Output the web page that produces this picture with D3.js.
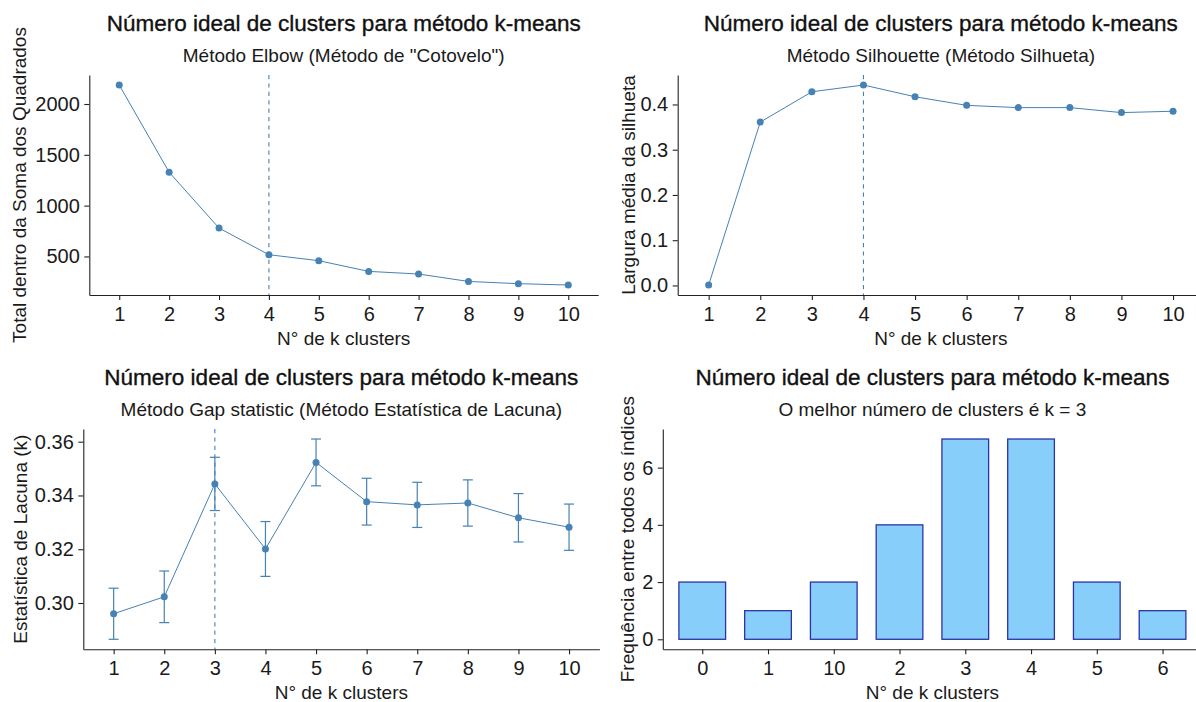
<!DOCTYPE html>
<html>
<head>
<meta charset="utf-8">
<script src="https://cdn.jsdelivr.net/npm/d3@7/dist/d3.min.js"></script>
<style>
  body { margin: 0; background: #fff; }
  svg { display: block; font-family: "Liberation Sans", Arial, sans-serif; }
  .domain, .tick line { stroke: #222; stroke-width: 1.1px; }
  .tick text { font-size: 20px; fill: #1a1a1a; }
  .title { font-size: 22.5px; fill: #111; stroke: #111; stroke-width: 0.35px; text-anchor: middle; }
  .subtitle, .axtitle { font-size: 19px; fill: #1a1a1a; text-anchor: middle; }
</style>
</head>
<body>
<script>
// data
var ks = [1, 2, 3, 4, 5, 6, 7, 8, 9, 10];
var wss = [2187, 1329, 779, 517, 458, 353, 327, 254, 232, 219];
var silhouette = [0.001, 0.361, 0.428, 0.443, 0.417, 0.398, 0.393, 0.393, 0.382, 0.385];
var gap = [0.2960, 0.3023, 0.3443, 0.3201, 0.3523, 0.3377, 0.3365, 0.3372, 0.3317, 0.3282];
var gapSE = [0.0095, 0.0096, 0.0099, 0.0102, 0.0087, 0.0087, 0.0084, 0.0086, 0.0090, 0.0086];
var nbCategories = ["0", "1", "10", "2", "3", "4", "5", "6"];
var nbFreq = [2, 1, 2, 4, 7, 7, 2, 1];

var elbowK = 4, silK = 4, gapK = 3;
var mainTitle = "Número ideal de clusters para método k-means";
var xLabel = "N° de k clusters";

var width = 1196, height = 702;
var blue = "steelblue";

var svg = d3.select("body").append("svg")
  .attr("width", width)
  .attr("height", height);

// ggplot style 5% expansion of a continuous range
function expand(ext) {
  var d = (ext[1] - ext[0]) * 0.05;
  return [ext[0] - d, ext[1] + d];
}

// draws titles + axes for one panel
function panel(p, x, y, yTicks, yFmt, subtitle, yLabel) {
  var g = svg.append("g");
  var cx = (p.left + p.right) / 2, cy = (p.top + p.bottom) / 2;

  g.append("text").attr("class", "title")
    .attr("x", cx).attr("y", p.top - 44.3).text(mainTitle);
  g.append("text").attr("class", "subtitle")
    .attr("x", cx).attr("y", p.top - 13.5).text(subtitle);

  g.append("g")
    .attr("transform", "translate(0," + p.bottom + ")")
    .call(d3.axisBottom(x).tickSize(5).tickSizeOuter(0).tickPadding(7));

  g.append("g")
    .attr("transform", "translate(" + p.left + ",0)")
    .call(d3.axisLeft(y).tickValues(yTicks).tickFormat(d3.format(yFmt))
      .tickSize(5).tickSizeOuter(0).tickPadding(4.5));

  g.append("text").attr("class", "axtitle")
    .attr("x", cx).attr("y", p.bottom + 50).text(xLabel);
  g.append("text").attr("class", "axtitle")
    .attr("transform", "translate(" + p.ylab + "," + cy + ") rotate(-90)")
    .text(yLabel);
  return g;
}

function linePanel(p, vals, kBest, yTicks, yFmt, subtitle, yLabel, lo, hi) {
  var x = d3.scalePoint().domain(ks).range([p.left, p.right]).padding(0.6);
  var ext = lo ? [d3.min(lo), d3.max(hi)] : d3.extent(vals);
  var y = d3.scaleLinear().domain(expand(ext)).range([p.bottom, p.top]);
  var g = panel(p, x, y, yTicks, yFmt, subtitle, yLabel);

  // vertical dashed marker at the optimal k
  g.append("line")
    .attr("x1", x(kBest)).attr("x2", x(kBest))
    .attr("y1", p.top).attr("y2", p.bottom)
    .attr("stroke", blue).attr("stroke-width", 1.1)
    .attr("stroke-dasharray", "4.2,4.2");

  var line = d3.line()
    .x(function(d, i) { return x(ks[i]); })
    .y(function(d) { return y(d); });
  g.append("path").datum(vals)
    .attr("fill", "none").attr("stroke", blue).attr("stroke-width", 1)
    .attr("d", line);

  if (lo) {
    var eb = g.selectAll(".err").data(ks).enter().append("g")
      .attr("stroke", blue).attr("stroke-width", 1.2);
    eb.append("line")
      .attr("x1", function(k) { return x(k); }).attr("x2", function(k) { return x(k); })
      .attr("y1", function(k, i) { return y(lo[i]); })
      .attr("y2", function(k, i) { return y(hi[i]); });
    eb.append("line")
      .attr("x1", function(k) { return x(k) - 5; }).attr("x2", function(k) { return x(k) + 5; })
      .attr("y1", function(k, i) { return y(lo[i]); }).attr("y2", function(k, i) { return y(lo[i]); });
    eb.append("line")
      .attr("x1", function(k) { return x(k) - 5; }).attr("x2", function(k) { return x(k) + 5; })
      .attr("y1", function(k, i) { return y(hi[i]); }).attr("y2", function(k, i) { return y(hi[i]); });
  }

  g.selectAll(".dot").data(vals).enter().append("circle")
    .attr("class", "dot").attr("r", 3.5)
    .attr("cx", function(d, i) { return x(ks[i]); })
    .attr("cy", function(d) { return y(d); })
    .attr("fill", blue);
}

// panel boxes
var p1 = {left: 89.3, right: 598.2, top: 75, bottom: 295, ylab: 26};
var p2 = {left: 677.7, right: 1204, top: 75, bottom: 295, ylab: 635};
var p3 = {left: 83.3, right: 599.4, top: 429, bottom: 649.3, ylab: 27};
var p4 = {left: 662.8, right: 1202, top: 429, bottom: 649.3, ylab: 634};

linePanel(p1, wss, elbowK, [500, 1000, 1500, 2000], "d",
  'Método Elbow (Método de "Cotovelo")', "Total dentro da Soma dos Quadrados");

linePanel(p2, silhouette, silK, [0, 0.1, 0.2, 0.3, 0.4], ".1f",
  "Método Silhouette (Método Silhueta)", "Largura média da silhueta");

var gapLo = gap.map(function(d, i) { return d - gapSE[i]; });
var gapHi = gap.map(function(d, i) { return d + gapSE[i]; });
linePanel(p3, gap, gapK, [0.30, 0.32, 0.34, 0.36], ".2f",
  "Método Gap statistic (Método Estatística de Lacuna)", "Estatística de Lacuna (k)",
  gapLo, gapHi);

// NbClust frequency bars
var xb = d3.scalePoint().domain(nbCategories).range([p4.left, p4.right]).padding(0.6);
var yb = d3.scaleLinear().domain(expand([0, d3.max(nbFreq)])).range([p4.bottom, p4.top]);
var g4 = panel(p4, xb, yb, [0, 2, 4, 6], "d",
  "O melhor número de clusters é k = 3", "Frequência entre todos os índices");
var bw = xb.step() * 0.71;
g4.selectAll(".bar").data(nbFreq).enter().append("rect")
  .attr("class", "bar")
  .attr("x", function(d, i) { return xb(nbCategories[i]) - bw / 2; })
  .attr("y", function(d) { return yb(d); })
  .attr("width", bw)
  .attr("height", function(d) { return yb(0) - yb(d); })
  .attr("fill", "#87CEFA")
  .attr("stroke", "#2b34a6")
  .attr("stroke-width", 1.3);
</script>
</body>
</html>
